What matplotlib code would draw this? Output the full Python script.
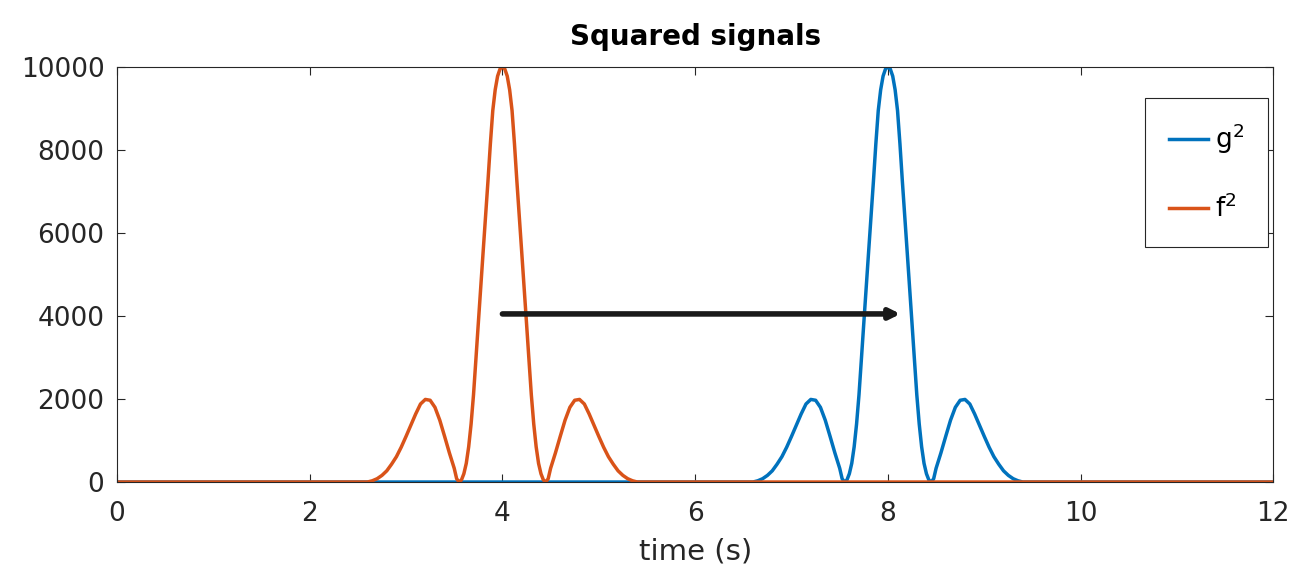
import numpy as np
import matplotlib.pyplot as plt

# sample times (s) across the f^2 pulse; everything outside is zero
t_pulse = [2.60, 2.65, 2.70, 2.75, 2.80, 2.85, 2.90, 2.95, 3.00, 3.05,
           3.10, 3.15, 3.20, 3.25, 3.30, 3.35, 3.40, 3.45, 3.50, 3.525,
           3.55, 3.575, 3.60, 3.625, 3.65, 3.675, 3.70, 3.725, 3.75, 3.775,
           3.80, 3.825, 3.85, 3.875, 3.90, 3.925, 3.95, 3.975,
           4.00,
           4.025, 4.05, 4.075, 4.10, 4.125, 4.15, 4.175, 4.20, 4.225, 4.25,
           4.275, 4.30, 4.325, 4.35, 4.375, 4.40, 4.425, 4.45, 4.475, 4.50,
           4.55, 4.60, 4.65, 4.70, 4.75, 4.80, 4.85, 4.90, 4.95, 5.00,
           5.05, 5.10, 5.15, 5.20, 5.25, 5.30, 5.35, 5.40]

# f^2 values at those times
f2_pulse = [0, 30, 80, 160, 270, 430, 610, 840, 1100, 1370,
            1640, 1880, 1990, 1970, 1800, 1490, 1100, 700, 330, 80,
            0, 50, 200, 450, 850, 1400, 2100, 2960, 3830, 4690,
            5550, 6400, 7250, 8150, 8950, 9450, 9780, 9950,
            10000,
            9950, 9780, 9450, 8950, 8150, 7250, 6400, 5550, 4690, 3830,
            2960, 2100, 1400, 850, 450, 200, 50, 0, 80, 330,
            700, 1100, 1490, 1800, 1970, 1990, 1880, 1640, 1370, 1100,
            840, 610, 430, 270, 160, 80, 30, 0]

delay = 4.0          # g is f delayed by 4 s
t_start, t_end = 0.0, 12.0

arrow_from = (4.0, 4050)
arrow_to = (8.13, 4050)

# full time axis for both signals
t_f = np.concatenate(([t_start], t_pulse, [t_end]))
f2 = np.concatenate(([0], f2_pulse, [0]))
t_g = np.concatenate(([t_start], np.array(t_pulse) + delay, [t_end]))
g2 = f2.copy()

plt.rcParams['font.family'] = ['DejaVu Sans']
plt.rcParams['mathtext.fontset'] = 'dejavusans'

blue = '#0072BD'
orange = '#D95319'
dark = '#262626'

fig = plt.figure(figsize=(12.95, 5.75), dpi=100)
ax = fig.add_axes([0.0903, 0.1617, 0.8930, 0.7218])

ax.plot(t_g, g2, color=blue, lw=2.5, label=r'$\mathregular{g^2}$')
ax.plot(t_f, f2, color=orange, lw=2.5, label=r'$\mathregular{f^2}$')

ax.annotate('', xy=arrow_to, xytext=arrow_from,
            arrowprops=dict(arrowstyle='-|>,head_length=0.6,head_width=0.3',
                            color='#1a1a1a', lw=4, shrinkA=0, shrinkB=0))

ax.set_xlim(0, 12)
ax.set_ylim(0, 10000)
ax.set_xticks(range(0, 13, 2))
ax.set_yticks(range(0, 10001, 2000))

ax.tick_params(direction='in', top=True, right=True, length=6,
               width=0.8, colors=dark, labelsize=19)
ax.tick_params(axis='x', pad=14)
ax.tick_params(axis='y', pad=9)
for s in ax.spines.values():
    s.set_color(dark)
    s.set_linewidth(0.8)

ax.set_title('Squared signals', fontsize=20, fontweight='bold', color='black', pad=16)
ax.set_xlabel('time (s)', fontsize=21, color=dark, labelpad=7)

leg = ax.legend(loc='upper right', bbox_to_anchor=(0.995, 0.925), fontsize=19,
                fancybox=False, edgecolor=dark, framealpha=1,
                handlelength=1.5, handletextpad=0.25, labelspacing=1.45,
                borderpad=0.9, borderaxespad=0)
leg.get_frame().set_linewidth(0.8)

fig.savefig('out.png', dpi=100)
